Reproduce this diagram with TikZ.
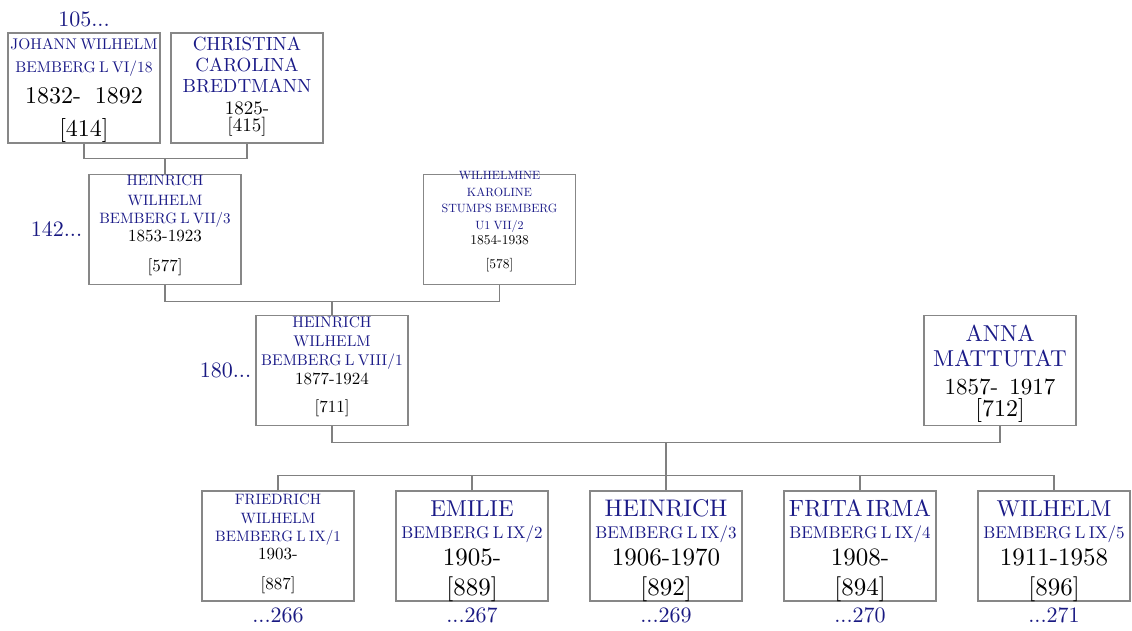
\documentclass[tikz,border=0pt]{standalone}
\usepackage{fontspec}
\setmainfont{lmroman10-regular.otf}
\usetikzlibrary{positioning, calc}
\definecolor{namecol}{RGB}{26,26,135}
\definecolor{refcol}{RGB}{25,25,130}
\definecolor{boxcol}{RGB}{135,135,135}
\definecolor{linecol}{RGB}{128,128,128}
\newcommand{\boxline}[3]{\par{\fontsize{#1}{#2}\selectfont\hbox to\hsize{\hss#3\hss}}}
\newcommand{\nm}[1]{\textcolor{namecol}{#1}}

\begin{document}
\begin{tikzpicture}[x=1pt, y=-1pt,
    person/.style={draw=boxcol, line width=1.1pt, minimum width=152pt,
                   minimum height=110pt, text width=152pt, inner sep=0pt,
                   text height=0pt, text depth=110pt, align=center},
    conn/.style={draw=linecol, line width=1.1pt},
    refno/.style={text=refcol, font=\fontsize{22}{26}\selectfont}]
  \useasboundingbox (0,0) rectangle (1132,631);

  % Generation VI
  \node[person] (jw) at (84,88) {
    \boxline{15.5}{17}{\nm{JOHANN WILHELM}}
    \boxline{15.5}{22.7}{\nm{BEMBERG L VI/18}}
    \boxline{24}{31}{1832-\hskip14pt 1892}
    \boxline{24}{33}{[414]}};
  \node[person] (cb) at (247,88) {
    \boxline{19}{18}{\nm{CHRISTINA}}
    \boxline{19}{20.3}{\nm{CAROLINA}}
    \boxline{19}{21}{\nm{BREDTMANN}}
    \boxline{19}{22.7}{1825-}
    \boxline{19}{16.7}{[415]}};

  % Generation VII
  \node[person] (h7) at (165,229.5) {
    \boxline{15}{10.7}{\nm{HEINRICH}}
    \boxline{15}{20}{\nm{WILHELM}}
    \boxline{15}{18.6}{\nm{BEMBERG L VII/3}}
    \boxline{17}{18}{1853-1923}
    \boxline{17}{29.4}{[577]}};
  \node[person] (wk) at (499.5,229.5) {\vskip-10pt
    \boxline{12}{15}{\nm{WILHELMINE}}
    \boxline{12}{16.7}{\nm{KAROLINE}}
    \boxline{12}{16.6}{\nm{STUMPS BEMBERG}}
    \boxline{12}{16.7}{\nm{U1 VII/2}}
    \boxline{13.5}{15}{1854-1938}
    \boxline{13.5}{24}{[578]}};

  % Generation VIII
  \node[person] (h8) at (332,370.5) {
    \boxline{15.5}{12.3}{\nm{HEINRICH}}
    \boxline{15.5}{19}{\nm{WILHELM}}
    \boxline{15.5}{18.7}{\nm{BEMBERG L VIII/1}}
    \boxline{17}{19}{1877-1924}
    \boxline{17}{27.7}{[711]}};
  \node[person] (am) at (1000,370.5) {
    \boxline{23}{25.7}{\nm{ANNA}}
    \boxline{23}{25}{\nm{MATTUTAT}}
    \boxline{23}{28.3}{1857-\hskip11pt 1917}
    \boxline{24}{22.3}{[712]}};

  % Generation IX
  \node[person] (fw) at (278,546) {
    \boxline{15}{13}{\nm{FRIEDRICH}}
    \boxline{15}{19.3}{\nm{WILHELM}}
    \boxline{15}{18.4}{\nm{BEMBERG L IX/1}}
    \boxline{17}{17.6}{1903-}
    \boxline{17}{29.7}{[887]}};
  \node[person] (em) at (472,546) {
    \boxline{23}{25}{\nm{EMILIE}}
    \boxline{17}{22}{\nm{BEMBERG L IX/2}}
    \boxline{25}{27}{1905-}
    \boxline{25}{30.7}{[889]}};
  \node[person] (hr) at (666,546) {
    \boxline{24}{25}{\nm{HEINRICH}}
    \boxline{17}{22}{\nm{BEMBERG L IX/3}}
    \boxline{25}{27}{1906-1970}
    \boxline{25}{30.7}{[892]}};
  \node[person] (fi) at (860,546) {
    \boxline{23.5}{25}{\nm{FRITA IRMA}}
    \boxline{17}{22}{\nm{BEMBERG L IX/4}}
    \boxline{25}{27}{1908-}
    \boxline{25}{30.7}{[894]}};
  \node[person] (wb) at (1054,546) {
    \boxline{23}{25}{\nm{WILHELM}}
    \boxline{17}{22}{\nm{BEMBERG L IX/5}}
    \boxline{25}{27}{1911-1958}
    \boxline{25}{30.7}{[896]}};

  % Cross references
  \node[refno, above=2.4pt of jw] (r105) {105...};
  \node[refno, left=2.7pt of h7] (r142) {142...};
  \node[refno, left=0.7pt of h8] (r180) {180...};
  \node[refno, below=2.4pt of fw] (r266) {...266};
  \node[refno, below=2.4pt of em] (r267) {...267};
  \node[refno, below=2.4pt of hr] (r269) {...269};
  \node[refno, below=2.4pt of fi] (r270) {...270};
  \node[refno, below=2.4pt of wb] (r271) {...271};

  % Family lines
  \draw[conn] (jw.south) -- ++(0,15) coordinate (b1) -| (cb.south);
  \draw[conn] (h7.north) -- (h7.north |- b1);
  \draw[conn] (h7.south) -- ++(0,16) coordinate (b2) -| (wk.south);
  \draw[conn] (h8.north) -- (h8.north |- b2);
  \draw[conn] (h8.south) -- ++(0,16) coordinate (b3) -| (am.south);
  \draw[conn] (fw.north) -- ++(0,-15) coordinate (b4) -| (wb.north);
  \draw[conn] (hr.north |- b3) -- (hr.north);
  \foreach \c in {em, fi}
    \draw[conn] (\c.north) -- (\c.north |- b4);
\end{tikzpicture}
\end{document}
